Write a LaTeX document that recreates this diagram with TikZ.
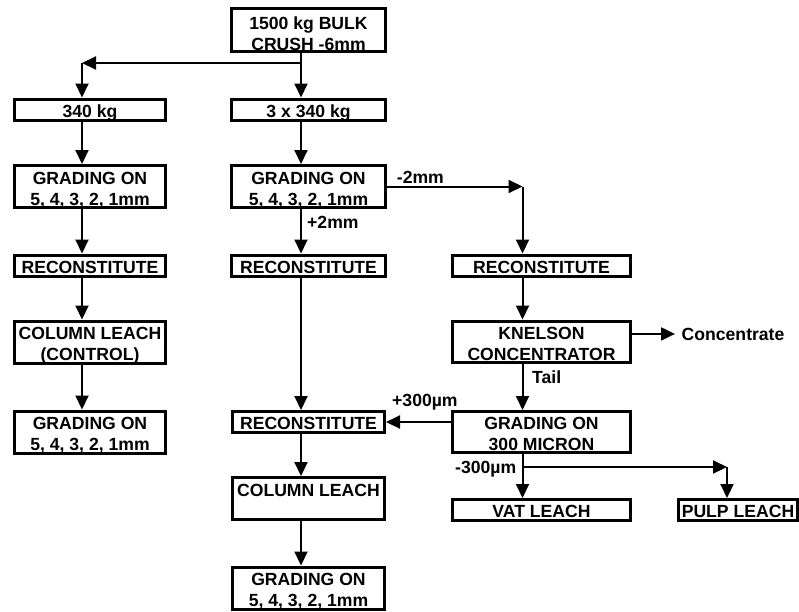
\documentclass[tikz,border=0pt]{standalone}
\usepackage{fontspec}
\setmainfont{Liberation Sans}
\usetikzlibrary{positioning,arrows.meta,calc}

\begin{document}
\begin{tikzpicture}[x=1pt, y=-1pt, font=\fontsize{17.6}{21}\selectfont\bfseries,
  stage/.style={draw=black, line width=3pt, inner sep=0pt, align=center,
                minimum width=151pt, minimum height=21pt,
                text height=15.5pt, text depth=0pt},
  stage2/.style={stage, minimum height=42pt, text height=37pt},
  wide/.style={minimum width=154pt},
  broad/.style={minimum width=178pt},
  tag/.style={inner sep=0pt, anchor=base west},
  flow/.style={line width=2pt, -{Triangle[width=13pt,length=14pt]}}]

\useasboundingbox (0,0) rectangle (799,611);

% flow axes
\coordinate (colA) at (82,0);
\coordinate (colB) at (301,0);
\coordinate (colC) at (522.5,0);
\coordinate (colD) at (727,0);
\coordinate (split) at (301,63);
\coordinate (cut) at (522.5,467);

\node[stage2, wide, text height=41pt, minimum height=43pt] (crush) at (308.5,30) {1500 kg BULK\\CRUSH -6mm};

% control column
\node[stage]  (kgA)     at (90,109.5) {340 kg};
\node[stage2] (gradeA)  at (90,186.5) {GRADING ON\\5, 4, 3, 2, 1mm};
\node[stage]  (reconA)  at (90,265.5) {RECONSTITUTE};
\node[stage2] (leachA)  at (90,342)   {COLUMN LEACH\\(CONTROL)};
\node[stage2] (gradeA2) at (90,432)   {GRADING ON\\5, 4, 3, 2, 1mm};

% main column
\node[stage, wide]  (kgB)     at (308.5,109.5) {3 x 340 kg};
\node[stage2, wide] (gradeB)  at (308.5,186.5) {GRADING ON\\5, 4, 3, 2, 1mm};
\node[stage, wide]  (reconB)  at (308.5,265.5) {RECONSTITUTE};
\node[stage, minimum width=152pt]  (reconD) at (308.5,422)  {RECONSTITUTE};
\node[stage2, minimum width=152pt] (leachB) at (308.5,498.5) {COLUMN LEACH\\~};
\node[stage2, minimum width=152pt] (gradeB2) at (308.5,588) {GRADING ON\\5, 4, 3, 2, 1mm};

% fines column
\node[stage, broad]  (reconC)  at (541.5,265.5) {RECONSTITUTE};
\node[stage2, broad, minimum height=41pt] (knelson) at (541.5,341.5) {KNELSON\\CONCENTRATOR};
\node[stage2, broad, minimum height=41pt] (micron)  at (541.5,432)   {GRADING ON\\300 MICRON};
\node[stage, broad]  (vat)     at (541.5,510) {VAT LEACH};
\node[stage, minimum width=119pt] (pulp) at (738,510) {PULP LEACH};
\node[tag, inner xsep=6.5pt] (conc) at (675,340) {Concentrate};

% connectors
\draw[flow] (crush.south -| colB) -- (kgB.north -| colB);
\draw[flow] (split) -- (split -| colA);
\draw[flow] (split -| colA) -- (kgA.north -| colA);

\foreach \a/\b in {kgA/gradeA, gradeA/reconA, reconA/leachA, leachA/gradeA2}{
  \draw[flow] (\a.south -| colA) -- (\b.north -| colA);
}
\foreach \a/\b in {kgB/gradeB, gradeB/reconB, reconB/reconD, reconD/leachB, leachB/gradeB2}{
  \draw[flow] (\a.south -| colB) -- (\b.north -| colB);
}
\foreach \a/\b in {reconC/knelson, knelson/micron, micron/vat}{
  \draw[flow] (\a.south -| colC) -- (\b.north -| colC);
}

\draw[flow] (gradeB.east) -- (gradeB.east -| colC);
\draw[flow] (gradeB.east -| colC) -- (reconC.north -| colC);
\draw[flow] (knelson.east |- conc.west) -- (conc.west);
\draw[flow] (micron.west |- reconD) -- (reconD.east);
\draw[flow] (cut) -- (cut -| colD);
\draw[flow] (cut -| colD) -- (pulp.north -| colD);

% stream labels
\node[tag] (minus2)   at (396.7,183) {-2mm};
\node[tag] (plus2)    at (307,228)   {+2mm};
\node[tag] (tail)     at (532,383)   {Tail};
\node[tag] (plus300)  at (392,406)   {+300µm};
\node[tag] (minus300) at (455,473)   {-300µm};
\end{tikzpicture}
\end{document}
